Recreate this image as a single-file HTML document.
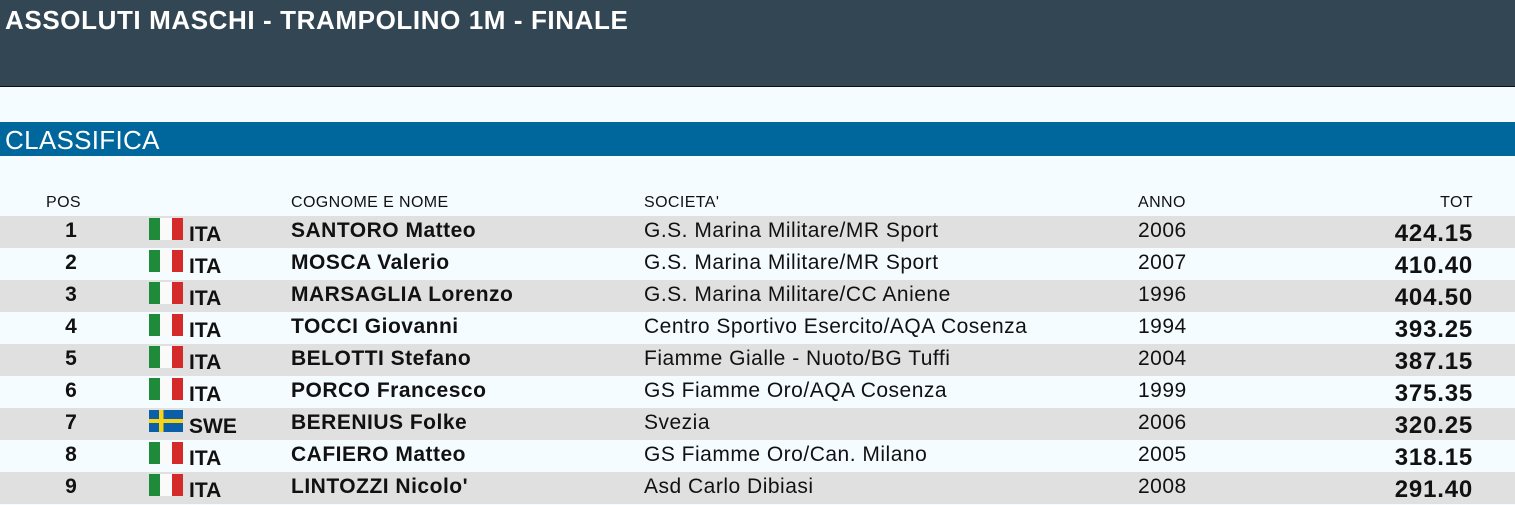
<!DOCTYPE html>
<html><head><meta charset="utf-8"><style>
body{margin:0;width:1515px;height:505px;background:#f5fcff;font-family:"Liberation Sans",sans-serif;position:relative;overflow:hidden;color:#111}
#hd{position:absolute;left:0;top:0;width:1515px;height:86px;background:#334654;border-bottom:1px solid #111}
#hd span{position:absolute;left:5px;top:5px;color:#fff;font-weight:bold;font-size:26px;letter-spacing:0.6px}
#cl{position:absolute;left:0;top:122px;width:1515px;height:34px;background:#00679c;color:#fff;font-size:26px;line-height:36px;padding-left:5px;letter-spacing:0.3px}
.h{position:absolute;top:194px;font-size:16px;letter-spacing:0.4px}
.r{position:absolute;left:0;width:1515px;height:32px}
.r div{position:absolute;font-size:21px;white-space:nowrap}
.p{left:40px;width:62px;text-align:center;top:3px;font-weight:bold}
.f{left:149px;top:2px;width:34px;height:22px}
.c{left:189px;top:7px;font-weight:bold}
.n{left:291px;top:3px;font-weight:bold;letter-spacing:0.5px}
.s{left:644px;top:3px;letter-spacing:0.5px}
.a{left:1138px;top:3px;letter-spacing:0.5px}
.t{right:42px;top:4px;font-weight:bold;font-size:24px!important;letter-spacing:0.8px}
.it{background:linear-gradient(90deg,#1f8a3a 0 33%,#fafafa 33% 67%,#d42a2a 67%)}
.se{background:linear-gradient(0deg,transparent 40%,#f7d418 40% 60%,transparent 60%),linear-gradient(90deg,#0a5fa8 0 30%,#f7d418 30% 42%,#0a5fa8 42%)}
</style></head><body>
<div id="hd"><span>ASSOLUTI MASCHI - TRAMPOLINO 1M - FINALE</span></div>
<div id="cl">CLASSIFICA</div>
<div class="h" style="left:46px">POS</div>
<div class="h" style="left:291px">COGNOME E NOME</div>
<div class="h" style="left:644px">SOCIETA'</div>
<div class="h" style="left:1138px">ANNO</div>
<div class="h" style="right:42px">TOT</div>

<div class="r" style="top:216px;background:#e0e0e0"><div class="p">1</div><div class="f it"></div><div class="c">ITA</div><div class="n">SANTORO Matteo</div><div class="s">G.S. Marina Militare/MR Sport</div><div class="a">2006</div><div class="t">424.15</div></div>
<div class="r" style="top:248px"><div class="p">2</div><div class="f it"></div><div class="c">ITA</div><div class="n">MOSCA Valerio</div><div class="s">G.S. Marina Militare/MR Sport</div><div class="a">2007</div><div class="t">410.40</div></div>
<div class="r" style="top:280px;background:#e0e0e0"><div class="p">3</div><div class="f it"></div><div class="c">ITA</div><div class="n">MARSAGLIA Lorenzo</div><div class="s">G.S. Marina Militare/CC Aniene</div><div class="a">1996</div><div class="t">404.50</div></div>
<div class="r" style="top:312px"><div class="p">4</div><div class="f it"></div><div class="c">ITA</div><div class="n">TOCCI Giovanni</div><div class="s">Centro Sportivo Esercito/AQA Cosenza</div><div class="a">1994</div><div class="t">393.25</div></div>
<div class="r" style="top:344px;background:#e0e0e0"><div class="p">5</div><div class="f it"></div><div class="c">ITA</div><div class="n">BELOTTI Stefano</div><div class="s">Fiamme Gialle - Nuoto/BG Tuffi</div><div class="a">2004</div><div class="t">387.15</div></div>
<div class="r" style="top:376px"><div class="p">6</div><div class="f it"></div><div class="c">ITA</div><div class="n">PORCO Francesco</div><div class="s">GS Fiamme Oro/AQA Cosenza</div><div class="a">1999</div><div class="t">375.35</div></div>
<div class="r" style="top:408px;background:#e0e0e0"><div class="p">7</div><div class="f se"></div><div class="c">SWE</div><div class="n">BERENIUS Folke</div><div class="s">Svezia</div><div class="a">2006</div><div class="t">320.25</div></div>
<div class="r" style="top:440px"><div class="p">8</div><div class="f it"></div><div class="c">ITA</div><div class="n">CAFIERO Matteo</div><div class="s">GS Fiamme Oro/Can. Milano</div><div class="a">2005</div><div class="t">318.15</div></div>
<div class="r" style="top:472px;background:#e0e0e0"><div class="p">9</div><div class="f it"></div><div class="c">ITA</div><div class="n">LINTOZZI Nicolo'</div><div class="s">Asd Carlo Dibiasi</div><div class="a">2008</div><div class="t">291.40</div></div>
</body></html>
